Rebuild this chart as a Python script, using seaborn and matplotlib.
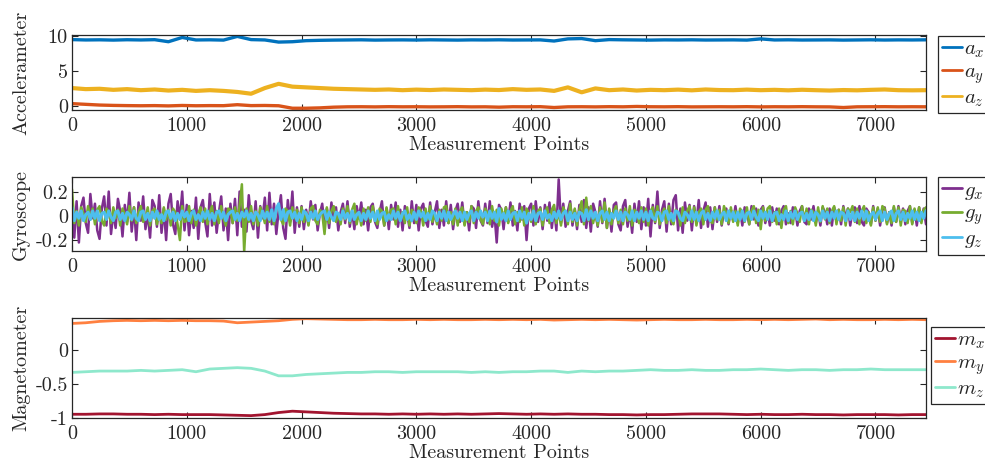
import numpy as np
import matplotlib
matplotlib.use("Agg")
import matplotlib.pyplot as plt
import seaborn as sns

# ---------------- data ----------------
coarse_step = 120   # sample spacing of accelerometer / magnetometer readings
fine_step = 20      # sample spacing of gyroscope readings

acc_x = [9.45, 9.40, 9.42, 9.38, 9.43, 9.40, 9.44, 9.15, 9.75, 9.40, 9.42, 9.38, 9.90, 9.45, 9.40,
         9.10, 9.15, 9.30, 9.35, 9.38, 9.40, 9.42, 9.38, 9.40, 9.41, 9.39, 9.42, 9.40, 9.38, 9.41,
         9.40, 9.42, 9.39, 9.40, 9.41, 9.25, 9.55, 9.60, 9.30, 9.45, 9.42, 9.40, 9.38, 9.41, 9.40,
         9.42, 9.39, 9.40, 9.41, 9.38, 9.55, 9.40, 9.42, 9.39, 9.40, 9.41, 9.38, 9.40, 9.42, 9.39,
         9.41, 9.40, 9.42]
acc_y = [0.40, 0.30, 0.20, 0.15, 0.12, 0.10, 0.12, 0.08, 0.14, 0.10, 0.12, 0.11, 0.25, 0.12, 0.14,
         0.10, -0.25, -0.25, -0.20, -0.10, -0.05, -0.04, -0.06, -0.03, -0.05, -0.04, -0.06, -0.05, -0.03, -0.06,
         -0.05, -0.10, -0.04, -0.05, -0.03, -0.15, -0.05, -0.04, -0.06, -0.03, -0.05, 0.00, -0.04, -0.05, -0.03,
         -0.06, -0.05, -0.04, -0.05, -0.03, -0.06, -0.04, -0.05, -0.03, -0.05, -0.06, -0.15, -0.05, -0.04, -0.03,
         -0.05, -0.04, -0.05]
acc_z = [2.60, 2.45, 2.50, 2.35, 2.45, 2.30, 2.40, 2.25, 2.35, 2.20, 2.30, 2.20, 2.05, 1.80, 2.60,
         3.20, 2.80, 2.70, 2.60, 2.50, 2.45, 2.40, 2.35, 2.40, 2.30, 2.38, 2.32, 2.40, 2.35, 2.30,
         2.38, 2.32, 2.45, 2.35, 2.40, 2.20, 2.70, 2.00, 2.55, 2.30, 2.40, 2.25, 2.35, 2.30, 2.38,
         2.28, 2.40, 2.32, 2.30, 2.38, 2.30, 2.35, 2.28, 2.36, 2.30, 2.25, 2.32, 2.28, 2.35, 2.40,
         2.30, 2.28, 2.30]

gyro_x = [.05, -.18, .12, -.22, .08, .15, -.06, -.14, .18, -.02,
          .1, -.12, -.19, .06, .16, -.08, .2, -.15, .03, -.1,
          .14, .04, -.17, .09, -.05, .19, -.13, .07, -.2, .11,
          -.04, .16, -.11, .02, -.18, .13, .08, -.09, .17, -.14,
          .06, -.2, .1, .18, -.07, -.15, .12, -.03, .2, -.12,
          .09, -.16, .04, -.1, .15, -.19, .07, .13, -.05, -.17,
          .18, -.08, .11, -.14, .03, .16, -.12, .06, -.2, .1,
          -.06, .14, -.16, .2, -.09, .05, -.13, .17, -.04, -.11,
          .12, -.18, .08, -.02, .15, -.12, .19, -.07, .1, -.15,
          .04, .17, -.1, -.19, .13, -.05, .2, -.14, .07, -.09,
          .08, -.11, .05, -.07, .12, -.03, .09, -.12, .02, .1,
          -.08, .06, -.1, .11, -.04, .07, -.12, .03, .1, -.06,
          .12, -.09, .04, -.11, .08, -.02, .11, -.07, .05, -.12,
          .07, .1, -.05, -.1, .03, .12, -.08, .06, -.11, .09,
          -.03, .11, -.09, .05, -.12, .08, .02, -.1, .12, -.06,
          .09, -.12, .06, .1, -.04, -.09, .11, -.07, .03, .12,
          -.1, .05, -.08, .12, -.06, .09, -.11, .04, .1, -.05,
          .11, -.07, .03, -.12, .08, .06, -.1, .12, -.04, -.08,
          .1, -.06, .12, -.09, .02, -.22, .09, .05, -.11, .07,
          -.05, .11, -.08, .04, -.12, .1, -.03, .08, -.2, .06,
          .1, -.08, .12, -.05, .07, -.11, .09, -.04, .11, -.1,
          .06, -.12, .3, -.06, .1, -.09, .04, .12, -.08, .05,
          -.11, .09, -.05, .13, -.1, .07, -.13, .1, .03, -.09,
          .12, -.06, .14, -.1, .05, -.13, .09, .11, -.07, -.12,
          .08, .13, -.09, .04, -.14, .1, -.05, .12, -.11, .07,
          -.08, .14, -.17, .09, -.06, .2, -.1, .05, .12, -.13,
          .1, -.07, .13, .17, -.12, .06, -.14, .11, -.04, .09,
          -.12, .08, -.06, .13, -.1, .04, .11, -.09, .07, -.11,
          .07, -.05, .08, -.08, .03, .06, -.07, .05, -.04, .08,
          -.06, .04, -.08, .07, .02, -.07, .08, -.03, .06, -.08,
          .05, .08, -.06, .03, -.08, .07, -.04, .06, -.07, .04,
          .08, -.07, .02, -.06, .07, .05, -.08, .04, .08, -.05,
          -.07, .06, -.03, .08, -.06, .04, -.08, .07, .03, -.07,
          .06, -.08, .07, -.04, .05, -.07, .08, -.02, .06, -.08,
          .04, .07, -.06, .08, -.05, -.08, .06, .03, -.07, .08,
          -.04, .06, -.08, .05, .07, -.06, .03, -.08, .07, -.05,
          .08, -.03, .06, -.07, .04, .08, -.06, .05, -.08, .07,
          -.04, .06, -.07]
gyro_y = [.22, -.06, .04, -.08, .07, .02, -.05, .08, -.03, .06,
          -.07, .05, .08, -.04, -.08, .06, .03, -.06, .07, -.02,
          .05, -.08, .06, .01, -.07, .08, -.04, .07, -.06, .03,
          .08, -.05, -.02, .07, -.08, .04, .06, -.07, .02, -.06,
          .07, -.03, .05, -.08, .06, .03, -.07, -.2, .08, -.05,
          -.04, .08, -.06, .05, -.08, .02, .07, -.05, .06, -.07,
          .03, .08, -.07, .04, -.06, .08, -.02, -.08, .06, .05,
          -.06, .07, -.04, .08, .26, -.3, .06, -.05, .08, -.07,
          .04, -.08, .07, .02, -.06, .08, -.05, .03, -.07, .06,
          .08, -.03, -.07, .06, .04, -.08, .07, -.02, .05, -.06,
          .07, -.05, .03, -.08, .06, .08, -.04, -.07, .05, .02,
          -.15, .07, -.06, .04, .08, -.05, .02, -.07, .06, -.03,
          .08, -.06, .05, .1, -.07, .03, -.08, .06, -.04, .07,
          -.05, .08, -.02, -.07, .06, .04, -.08, .07, -.03, .05,
          .06, -.07, .08, -.04, .03, -.06, .07, -.08, .05, .02,
          -.06, .07, .04, -.08, .06, -.03, .08, -.05, .02, -.07,
          .05, -.04, .07, .08, -.06, .03, -.07, .06, -.08, .04,
          .07, -.08, .03, -.05, .08, -.06, .04, .07, -.03, -.07,
          .06, .02, -.07, .08, -.04, .05, -.08, .06, -.02, .07,
          -.06, .04, .08, -.07, .03, -.05, .07, -.08, .06, .02,
          -.05, .08, -.07, .04, .06, -.08, .03, .07, -.06, .05,
          .09, -.06, .04, -.08, .07, .02, -.07, .1, -.05, .06,
          -.08, .05, .12, -.07, .15, -.04, .08, -.06, .03, -.08,
          .07, -.05, .11, -.1, .06, -.07, .04, .08, -.06, .05,
          -.07, .06, -.04, .08, -.08, .05, .03, -.06, .07, -.05,
          .06, -.08, .04, .07, -.05, .08, -.07, .02, .06, -.06,
          .08, -.04, -.07, .05, .03, -.08, .07, -.06, .04, .08,
          -.05, .07, -.08, .03, .06, -.07, .05, .08, -.04, -.06,
          .07, -.03, .05, -.07, .08, .02, -.06, .07, -.05, .04,
          -.08, .06, .03, -.05, .07, -.07, .04, .08, -.06, .05,
          -.11, .07, -.04, .06, .08, -.05, .03, -.07, .06, -.1,
          .05, .08, -.06, .04, -.07, .07, .02, -.05, .08, -.04,
          .06, -.07, .05, .03, -.08, .07, -.05, .08, -.03, .06,
          -.06, .04, .08, -.07, .05, -.04, .07, -.08, .06, .03,
          .08, -.05, .06, -.07, .04, .08, -.06, .03, -.08, .07,
          -.04, .07, -.05, .08, .06, -.07, .03, -.06, .08, -.05,
          .07, -.08, .05, .04, -.06, .08, -.07, .06, -.03, .07,
          -.06, .05, .07]
gyro_z = [.07, -.04, .03, -.02, .04, -.04, .01, .03, -.03, .04,
          -.02, .04, -.04, .02, .03, -.03, .04, -.01, -.04, .03,
          .04, -.03, .02, -.04, .03, .01, -.03, .04, -.02, -.04,
          .03, .04, -.03, .02, -.04, .03, -.02, .04, -.03, .01,
          -.04, .03, .04, -.02, .03, -.04, .02, -.03, .04, -.01,
          .03, -.04, .02, .04, -.03, .01, -.04, .03, -.02, .04,
          -.03, .02, -.04, .03, .04, -.02, .03, -.04, .01, .03,
          .04, -.03, .02, -.04, .03, -.01, .04, -.03, .02, -.04,
          .03, .01, -.04, .04, -.02, .03, -.03, .05, -.04, .06,
          .1, -.03, .05, -.04, .03, .04, -.02, .03, -.04, .02,
          -.03, .04, .02, -.04, .03, -.02, .04, -.03, .01, .03,
          .04, -.03, .03, -.01, -.04, .03, .02, -.03, .04, -.02,
          .02, -.04, .04, -.03, .01, .03, -.04, .02, -.03, .04,
          -.02, .03, -.04, .04, -.03, .02, .03, -.04, .01, -.03,
          .04, -.02, .03, -.04, .02, .04, -.03, .01, -.04, .03,
          -.03, .04, -.01, .03, -.04, .02, -.03, .04, .02, -.04,
          .03, -.02, .04, -.04, .03, -.03, .01, .04, -.02, .03,
          -.04, .03, -.03, .02, .04, -.04, .03, -.02, .04, -.01,
          .03, -.04, .04, -.02, .03, -.05, .06, -.03, .02, -.04,
          .04, -.03, .02, .03, -.04, .04, -.02, .03, -.06, .02,
          -.03, .04, -.04, .02, .03, -.03, .04, -.02, .01, -.04,
          .03, -.02, .04, -.03, .02, .04, -.04, .03, -.03, .02,
          -.04, .03, .02, -.04, .05, -.03, .04, -.02, .03, -.04,
          .02, .04, -.03, .03, -.04, .02, -.02, .04, -.03, .03,
          -.04, .03, .01, -.03, .04, -.04, .03, -.02, .04, -.03,
          .03, -.04, .04, -.02, -.03, .03, .02, -.04, .03, .04,
          -.03, .02, -.04, .04, .03, -.02, -.04, .03, .01, -.03,
          .04, -.03, .03, -.04, .02, .04, -.03, .02, -.04, .03,
          -.02, .04, -.03, .01, .03, -.04, .04, -.02, .03, -.04,
          .03, -.03, .04, -.04, .02, .03, -.03, .04, -.01, -.04,
          .04, -.02, .03, -.03, .04, -.04, .02, .03, -.04, .01,
          -.03, .04, -.04, .03, -.02, .04, -.03, .02, .03, -.04,
          .02, -.03, .04, -.04, .03, .01, -.04, .04, -.02, .03,
          -.04, .03, -.02, .04, -.03, .03, .02, -.04, .04, -.03,
          .03, -.04, .03, -.02, .04, -.03, .04, -.04, .01, .03,
          -.03, .02, .04, -.04, .03, -.03, .02, .04, -.04, .02,
          .04, -.03, .03, -.04, .02, -.02, .04, -.03, .03, -.04,
          .03, -.02, .04]

mag_x = [-0.945, -0.945, -0.94, -0.94, -0.945, -0.945, -0.95, -0.945, -0.95, -0.95, -0.95, -0.955, -0.96, -0.965, -0.95,
         -0.92, -0.90, -0.91, -0.92, -0.93, -0.935, -0.94, -0.94, -0.945, -0.94, -0.945, -0.94, -0.945, -0.94, -0.945,
         -0.94, -0.935, -0.94, -0.945, -0.94, -0.945, -0.94, -0.945, -0.945, -0.95, -0.95, -0.955, -0.95, -0.95, -0.945,
         -0.94, -0.94, -0.94, -0.945, -0.95, -0.945, -0.95, -0.95, -0.945, -0.95, -0.95, -0.955, -0.95, -0.95, -0.95,
         -0.955, -0.95, -0.95]
mag_y = [0.39, 0.40, 0.42, 0.43, 0.435, 0.43, 0.435, 0.43, 0.435, 0.43, 0.43, 0.425, 0.40, 0.41, 0.42,
         0.43, 0.45, 0.46, 0.455, 0.45, 0.445, 0.445, 0.45, 0.445, 0.445, 0.45, 0.445, 0.45, 0.445, 0.445,
         0.45, 0.445, 0.45, 0.445, 0.45, 0.44, 0.445, 0.45, 0.445, 0.45, 0.445, 0.44, 0.445, 0.45, 0.445,
         0.445, 0.45, 0.445, 0.445, 0.45, 0.445, 0.45, 0.445, 0.45, 0.455, 0.445, 0.45, 0.445, 0.445, 0.45,
         0.445, 0.45, 0.445]
mag_z = [-0.33, -0.32, -0.31, -0.31, -0.31, -0.30, -0.31, -0.30, -0.29, -0.32, -0.28, -0.27, -0.26, -0.27, -0.31,
         -0.38, -0.38, -0.36, -0.35, -0.34, -0.33, -0.33, -0.32, -0.32, -0.33, -0.32, -0.32, -0.32, -0.32, -0.33,
         -0.32, -0.33, -0.32, -0.32, -0.31, -0.31, -0.33, -0.31, -0.32, -0.31, -0.31, -0.30, -0.29, -0.30, -0.30,
         -0.29, -0.30, -0.30, -0.29, -0.29, -0.28, -0.29, -0.30, -0.29, -0.29, -0.30, -0.29, -0.29, -0.28, -0.29,
         -0.29, -0.29, -0.29]

x_ticks = [0, 1000, 2000, 3000, 4000, 5000, 6000, 7000]
x_tick_labels = ['0', '1000', '2000', '3000', '4000', '5000', '6000', '7000']
acc_ticks = [0, 5, 10]
acc_tick_labels = ['0', '5', '10']
gyro_ticks = [-0.2, 0, 0.2]
gyro_tick_labels = ['-0.2', '0', '0.2']
mag_ticks = [-1, -0.5, 0]
mag_tick_labels = ['-1', '-0.5', '0']
x_max = 7440

# ---------------- style ----------------
sns.set_style("ticks")
plt.rcParams.update({
    "font.family": ["cmr10", "DejaVu Serif"],
    "mathtext.fontset": "cm",
    "axes.unicode_minus": False,
    "axes.formatter.use_mathtext": True,
    "axes.edgecolor": "#262626",
    "axes.linewidth": 0.9,
    "xtick.direction": "in",
    "ytick.direction": "in",
    "xtick.top": True,
    "ytick.right": True,
    "xtick.color": "#262626",
    "ytick.color": "#262626",
    "xtick.major.size": 4,
    "ytick.major.size": 4,
})

FS = 14.5
fig = plt.figure(figsize=(9.85, 4.71), dpi=100)
W, H = 985, 471


def add_axes_px(left, top, right, bottom):
    return fig.add_axes([left / W, 1 - bottom / H, (right - left) / W, (bottom - top) / H])


ax1 = add_axes_px(72, 35, 926, 110)
ax2 = add_axes_px(72, 177, 926, 251)
ax3 = add_axes_px(72, 318, 926, 418)

xc = np.arange(len(acc_x)) * coarse_step
xf = np.arange(len(gyro_x)) * fine_step

# Accelerometer
sns.lineplot(x=xc, y=acc_x, ax=ax1, color="#0072BD", lw=2.4, label=r"$a_x$")
sns.lineplot(x=xc, y=acc_y, ax=ax1, color="#D95319", lw=2.4, label=r"$a_y$")
sns.lineplot(x=xc, y=acc_z, ax=ax1, color="#EDB120", lw=3.0, label=r"$a_z$")

# Gyroscope
sns.lineplot(x=xf, y=gyro_x, ax=ax2, color="#7E2F8E", lw=1.8, label=r"$g_x$")
sns.lineplot(x=xf, y=gyro_y, ax=ax2, color="#77AC30", lw=1.8, label=r"$g_y$")
sns.lineplot(x=xf, y=gyro_z, ax=ax2, color="#4DBEEE", lw=2.2, label=r"$g_z$")

# Magnetometer
sns.lineplot(x=xc, y=mag_x, ax=ax3, color="#A2142F", lw=2.0, label=r"$m_x$")
sns.lineplot(x=xc, y=mag_y, ax=ax3, color="#FF8040", lw=2.0, label=r"$m_y$")
sns.lineplot(x=xc, y=mag_z, ax=ax3, color="#8EE8CC", lw=2.0, label=r"$m_z$")

setup = [
    (ax1, "Accelerameter", (-0.5, 10.1), acc_ticks, acc_tick_labels, (938, 36)),
    (ax2, "Gyroscope", (-0.29, 0.32), gyro_ticks, gyro_tick_labels, (938, 177)),
    (ax3, "Magnetometer", (-1.0, 0.47), mag_ticks, mag_tick_labels, (931, 327)),
]
for ax, ylab, ylim, yt, ytl, (lx, ly) in setup:
    ax.set_xlim(0, x_max)
    ax.set_ylim(*ylim)
    ax.set_xticks(x_ticks)
    ax.set_xticklabels(x_tick_labels, fontsize=FS)
    ax.set_yticks(yt)
    ax.set_yticklabels(ytl, fontsize=FS)
    ax.tick_params(axis="x", pad=5)
    ax.tick_params(axis="y", pad=3)
    ax.set_xlabel("Measurement Points", fontsize=FS, labelpad=1)
    ax.set_ylabel(ylab, fontsize=FS)
    ax.yaxis.set_label_coords(-0.049, 0.5)
    for s in ax.spines.values():
        s.set_visible(True)
        s.set_color("#262626")
    leg = ax.legend(loc="upper left", bbox_to_anchor=(lx / W, 1 - ly / H),
                    bbox_transform=fig.transFigure, fontsize=15, frameon=True,
                    fancybox=False, edgecolor="#262626", framealpha=1,
                    handlelength=0.95, handletextpad=0.12, labelspacing=0.12,
                    borderpad=0.2, borderaxespad=0)
    leg.get_frame().set_linewidth(0.9)
    for line in leg.get_lines():
        line.set_linewidth(2)

fig.savefig("out.png", dpi=100)
